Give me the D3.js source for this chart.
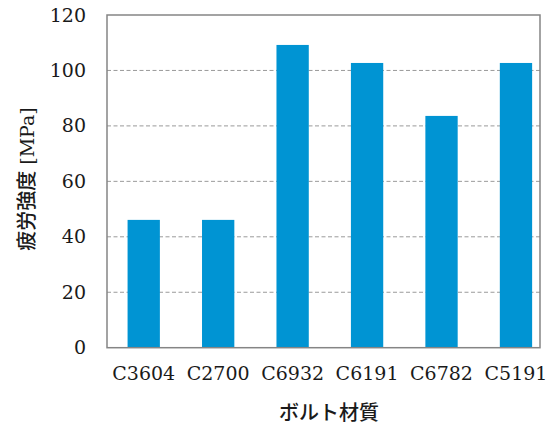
<!DOCTYPE html>
<html><head><meta charset="utf-8">
<script src="https://cdn.jsdelivr.net/npm/d3@7"></script>
<style>body{margin:0;background:#fff}</style>
</head><body>
<svg id="c" width="549" height="426"></svg>
<script>
const categories = ["C3604","C2700","C6932","C6191","C6782","C5191"];
const values = [46.1, 46.1, 109.2, 102.7, 83.6, 102.7];
const yTicks = [0,20,40,60,80,100,120];
const xTitle = "ボルト材質";
const yTitleMain = "疲労強度";
const yTitleUnit = " [MPa]";

const svg = d3.select("#c");
const L = 107, R = 540, T = 15, B = 347.7;
const y = d3.scaleLinear().domain([0,120]).range([B,T]);
const x = d3.scaleBand().domain(categories).range([106.5, 553.2]).paddingInner(0.566).paddingOuter(0.283);

// gridlines
svg.append("g").selectAll("line").data(yTicks.filter(d=>d>0 && d<120)).join("line")
  .attr("x1",L).attr("x2",R).attr("y1",d=>y(d)).attr("y2",d=>y(d))
  .attr("stroke","#9a9a9a").attr("stroke-width",1).attr("stroke-dasharray","4,2.5");

// bars
svg.append("g").selectAll("rect").data(categories).join("rect")
  .attr("x",d=>x(d)).attr("width",x.bandwidth())
  .attr("y",(d,i)=>y(values[i])).attr("height",(d,i)=>B-y(values[i]))
  .attr("fill","#0094d3");

// frame
svg.append("rect").attr("x",L).attr("y",T).attr("width",R-L).attr("height",B-T)
  .attr("fill","none").attr("stroke","#858585").attr("stroke-width",1.5);

// y axis labels
const yAxis = d3.axisLeft(y).tickValues(yTicks).tickSize(0).tickPadding(21).tickFormat(d3.format("d"));
const ya = svg.append("g").attr("transform",`translate(${L},0)`).call(yAxis);
ya.select(".domain").remove();
ya.selectAll("text").attr("font-family","DejaVu Serif").attr("font-size",19).attr("fill","#1a1a1a");

// x axis labels
const xAxis = d3.axisBottom(x).tickSize(0).tickPadding(19);
const xa = svg.append("g").attr("transform",`translate(0,${B})`).call(xAxis);
xa.select(".domain").remove();
xa.selectAll("text").attr("font-family","DejaVu Serif").attr("font-size",19).attr("fill","#1a1a1a");

// titles
svg.append("text").attr("x",329).attr("y",420).attr("text-anchor","middle")
  .attr("font-family","Noto Sans CJK JP").attr("font-weight",500).attr("font-size",20).attr("fill","#1a1a1a").text(xTitle);
const yt = svg.append("text").attr("transform","translate(34,179) rotate(-90)").attr("text-anchor","middle")
  .attr("font-size",20).attr("fill","#1a1a1a");
yt.append("tspan").attr("font-family","Noto Sans CJK JP").attr("font-weight",500).text(yTitleMain);
yt.append("tspan").attr("font-family","DejaVu Serif").attr("font-size",19).text(yTitleUnit);
</script>
</body></html>
